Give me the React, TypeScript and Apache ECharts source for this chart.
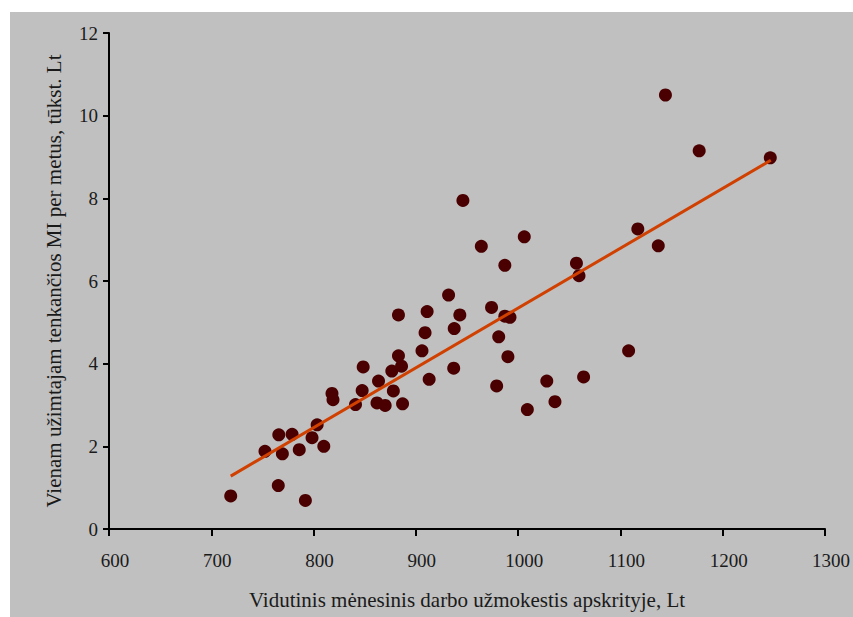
import React, { useEffect, useRef } from "react";
import * as echarts from "echarts";

const salaries: number[] = [
  719, 765.5, 792, 752.5, 766, 769.5, 779, 786, 798.5, 803.5, 810, 818, 819, 841, 847.5, 848.5,
  862, 863.5, 870, 876.5, 878, 883, 886, 887, 883, 906, 909, 911, 913, 932, 937, 937.5, 943, 946,
  964, 974, 979, 981, 987, 987, 992, 990, 1006, 1009, 1028, 1036, 1057, 1059.5, 1064, 1108, 1117,
  1137, 1144, 1177, 1246.5,
];
const values: number[] = [
  0.8, 1.05, 0.69, 1.88, 2.28, 1.82, 2.29, 1.92, 2.21, 2.52, 2.0, 3.28, 3.13, 3.01, 3.35, 3.92,
  3.05, 3.58, 2.99, 3.82, 3.34, 4.19, 3.94, 3.03, 5.18, 4.31, 4.75, 5.26, 3.62, 5.66, 3.89, 4.85,
  5.18, 7.95, 6.84, 5.36, 3.46, 4.65, 6.38, 5.15, 5.12, 4.17, 7.07, 2.89, 3.58, 3.08, 6.43, 6.13,
  3.68, 4.31, 7.26, 6.85, 10.5, 9.15, 8.98,
];
const trendX: number[] = [719, 1247];
const trendY: number[] = [1.28, 8.92];

const xTitle = "Vidutinis mėnesinis darbo užmokestis apskrityje, Lt";
const yTitle = "Vienam užimtajam tenkančios MI per metus, tūkst. Lt";

export default function App() {
  const ref = useRef<HTMLDivElement>(null);
  useEffect(() => {
    if (!ref.current) return;
    const chart = echarts.init(ref.current, undefined, { renderer: "svg" });
    const font = "'Liberation Serif', 'Times New Roman', serif";
    chart.setOption({
      animation: false,
      backgroundColor: "#ffffff",
      graphic: [
        {
          type: "rect",
          z: -10,
          silent: true,
          shape: { x: 10, y: 12, width: 843, height: 605 },
          style: { fill: "#c0c0c0" },
        },
      ],
      grid: { left: 109, right: 25, top: 33, bottom: 88 },
      xAxis: {
        type: "value",
        min: 600,
        max: 1300,
        interval: 100,
        name: xTitle,
        nameLocation: "middle",
        nameGap: 60,
        nameTextStyle: { fontFamily: font, fontSize: 21, color: "#1a1a1a" },
        axisLine: { show: true, onZero: false, lineStyle: { color: "#000", width: 2 } },
        axisTick: { show: true, inside: false, length: 7, lineStyle: { color: "#000", width: 2 } },
        axisLabel: {
          fontFamily: font,
          fontSize: 19,
          color: "#1a1a1a",
          margin: 22,
          padding: [0, 0, 0, 12],
          formatter: (v: number) => String(v),
        },
        splitLine: { show: false },
      },
      yAxis: {
        type: "value",
        min: 0,
        max: 12,
        interval: 2,
        name: yTitle,
        nameLocation: "middle",
        nameGap: 45,
        nameTextStyle: { fontFamily: font, fontSize: 21, color: "#1a1a1a" },
        axisLine: { show: true, lineStyle: { color: "#000", width: 2 } },
        axisTick: { show: true, inside: false, length: 6, lineStyle: { color: "#000", width: 2 } },
        axisLabel: {
          fontFamily: font,
          fontSize: 19,
          color: "#1a1a1a",
          margin: 11,
          formatter: (v: number) => String(v),
        },
        splitLine: { show: false },
      },
      series: [
        {
          type: "scatter",
          symbol: "circle",
          symbolSize: 13,
          itemStyle: { color: "#4a0000", opacity: 1 },
          data: salaries.map((s, i) => [s, values[i]]),
          z: 2,
        },
        {
          type: "line",
          data: trendX.map((s, i) => [s, trendY[i]]),
          symbol: "none",
          lineStyle: { color: "#d04000", width: 3 },
          z: 3,
        },
      ],
    });
    return () => chart.dispose();
  }, []);
  return (
    <div
      ref={ref}
      style={{ position: "fixed", left: 0, top: 0, width: 853, height: 617 }}
    />
  );
}
